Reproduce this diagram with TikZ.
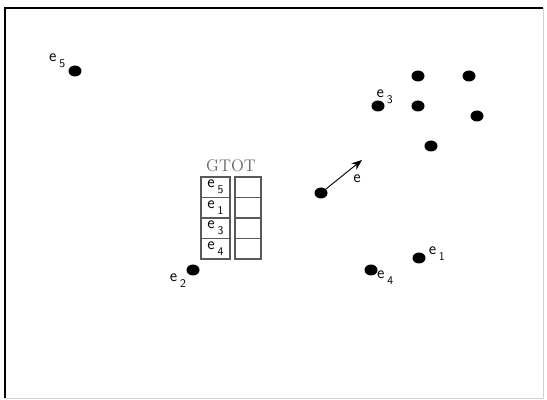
\documentclass[tikz,border=0pt]{standalone}
\usepackage{tikz}
\usetikzlibrary{
  arrows.meta,
  positioning,
  shapes.geometric,
}
% label with lowered index
\newcommand{\elab}[1]{e\,\raisebox{-0.8ex}{\normalsize#1}}
\tikzset{
  % scene point
  pt/.style={
    ellipse, fill=black, inner sep=0pt,
    minimum width=0.39cm, minimum height=0.33cm,
  },
  % point label
  lab/.style={font=\Large\sffamily, inner sep=1pt},
  % table cell
  cell/.style={
    rectangle, draw=gray!70!black, line width=1pt,
    minimum width=0.87cm, minimum height=0.615cm,
    inner sep=0pt, font=\Large\sffamily,
  },
  % Arrow
  arr/.style={-{Stealth[length=9pt, width=7pt]}, thick},
}

\begin{document}
\begin{tikzpicture}[x=0.03cm, y=-0.03cm]

\useasboundingbox (0,0) rectangle (547,400);
\fill[white] (0,0) rectangle (547,400);

% ── Frame ─────────────────────────────────────────────────────────────────────
\draw[gray!35] (543,8) -- (543,398) -- (5,398);
\draw[line width=2.4pt] (5,398) -- (5,8) -- (543,8);

% ── Labelled points ───────────────────────────────────────────────────────────
\node[pt] (p5) at (75,71) {};
\node[lab, left=0.05cm of p5, yshift=0.3cm] (l5) {\elab{5}};

\node[pt] (p3) at (378,106) {};
\node[lab, above=-0.15cm of p3, xshift=0.2cm] (l3) {\elab{3}};

\node[pt] (p1) at (419,258) {};
\node[lab, right=0.05cm of p1, yshift=0.12cm] (l1) {\elab{1}};

\node[pt] (p4) at (371,270) {};
\node[lab, below right=-0.15cm and 0.0cm of p4] (l4) {\elab{4}};

\node[pt] (p2) at (193,270) {};
\node[lab, below=-0.1cm of p2, xshift=-0.45cm] (l2) {\elab{2}};

% ── Other points ──────────────────────────────────────────────────────────────
\node[pt] (q1) at (418,76) {};
\node[pt] (q2) at (469,76) {};
\node[pt] (q3) at (418,106) {};
\node[pt] (q4) at (477,116) {};
\node[pt] (q5) at (431,146) {};

% ── Moving point ──────────────────────────────────────────────────────────────
\node[pt] (mv) at (321,193) {};
\coordinate (tip) at (362,160);
\draw[arr] (mv.center) -- (tip);
\node[lab, below=0.4cm of tip, xshift=-0.15cm] (lv) {e};

% ── GTOT table ────────────────────────────────────────────────────────────────
\node[font=\Large\rmfamily, text=gray!80!black, inner sep=0pt] (gtot) at (231,166) {GTOT};
\foreach \s [count=\i] in {5,1,3,4} {
  \node[cell] (a\i) at (215.5,{166.75+20.5*\i}) {\elab{\s}};
  \node[cell, minimum width=0.78cm] (b\i) at (248,{166.75+20.5*\i}) {};
}

\end{tikzpicture}
\end{document}
